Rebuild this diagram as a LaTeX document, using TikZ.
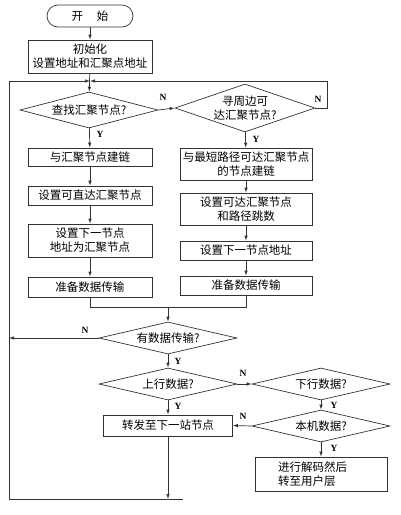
\documentclass[tikz,border=0pt]{standalone}
\usepackage{fontspec}
\setmainfont{Liberation Serif}
\newfontfamily\cjk{Noto Sans CJK SC}
\usetikzlibrary{shapes.geometric,arrows.meta}
\tikzset{
 line/.style={draw=black!80, line width=0.7pt},
 arr/.style={line, -{Latex[length=5pt,width=3.5pt]}},
 procbox/.style={draw=black!80, line width=0.7pt, rectangle, minimum width=124pt, font=\cjk\fontsize{11.5}{14}\selectfont, align=center, inner sep=1pt},
 decision/.style={draw=black!80, line width=0.7pt, diamond, inner sep=-10pt, aspect=3.6, minimum width=138pt, minimum height=34pt, font=\cjk\fontsize{11.5}{14}\selectfont, align=center},
 yn/.style={font=\bfseries\fontsize{9.5}{10}\selectfont, inner sep=1pt}
}
\begin{document}
\begin{tikzpicture}[x=1pt,y=-1pt]
\useasboundingbox (0,0) rectangle (400,515);
\node[procbox, rounded corners=11pt, minimum width=86pt, minimum height=22pt] (start) at (90,16) {开\hspace{1.2em}始};
\node[procbox, minimum height=33pt] (init) at (90,56.5) {初始化\\设置地址和汇聚点地址};
\node[decision, minimum height=36pt] (d1) at (89,110) {查找汇聚节点?};
\node[decision, aspect=2.9, minimum width=140pt, minimum height=48pt] (d2) at (245,108) {寻周边可\\达汇聚节点?};
\node[procbox, minimum height=18pt] (L1) at (90,157) {与汇聚节点建链};
\node[procbox, minimum height=19pt] (L2) at (90,195.5) {设置可直达汇聚节点};
\node[procbox, minimum height=33pt] (L3) at (90,240.5) {设置下一节点\\地址为汇聚节点};
\node[procbox, minimum height=20pt] (L4) at (90,287) {准备数据传输};
\node[procbox, minimum width=132pt, minimum height=32pt] (R1) at (246,164) {与最短路径可达汇聚节点\\的节点建链};
\node[procbox, minimum width=132pt, minimum height=32pt] (R2) at (246,209) {设置可达汇聚节点\\和路径跳数};
\node[procbox, minimum width=132pt, minimum height=19pt] (R3) at (246,250.5) {设置下一节点地址};
\node[procbox, minimum width=132pt, minimum height=19pt] (R4) at (246,285.5) {准备数据传输};
\node[decision, minimum height=32pt] (d3) at (168,338) {有数据传输?};
\node[decision, minimum height=32pt] (d4) at (168,384) {上行数据?};
\node[decision, minimum height=32pt] (d5) at (321,384) {下行数据?};
\node[decision, minimum height=32pt] (d6) at (321,426) {本机数据?};
\node[procbox, minimum width=129pt, minimum height=21pt] (fw) at (168,425.5) {转发至下一站节点};
\node[procbox, minimum width=132pt, minimum height=34pt, align=left, text width=86pt] (last) at (321,474) {进行解码然后\\转至用户层};
% loop-back lines
\coordinate (tl) at (9,81);
\coordinate (bl) at (9,499);
\coordinate (br) at (183,499);
\coordinate (jl) at (90,81);
\coordinate (rt) at (327,81);
\coordinate (rb) at (327,108);
\coordinate (mL) at (90,307);
\coordinate (mR) at (246,307);
\coordinate (mC) at (168,307);
\coordinate (nL) at (9,338);
\coordinate (fb) at (168,499);
\draw[arr] (start) -- (init);
\draw[arr] (init) -- (d1);
\draw[line] (br) -- (bl) -- (tl);
\draw[arr] (tl) -- (jl);
\draw[arr] (d2.east) -- (rb) -- (rt) -- (jl);
\draw[arr] (d1.east) -- (d2.west);
\draw[arr] (d1) -- (L1);
\draw[arr] (L1) -- (L2);
\draw[arr] (L2) -- (L3);
\draw[arr] (L3) -- (L4);
\draw[arr] (d2) -- (R1);
\draw[arr] (R1) -- (R2);
\draw[arr] (R2) -- (R3);
\draw[arr] (R3) -- (R4);
\draw[line] (L4.south) -- (mL) -- (mR) -- (R4.south);
\draw[arr] (mC) -- (d3.north);
\draw[arr] (d3.west) -- (nL);
\draw[arr] (d3) -- (d4);
\draw[arr] (d4.east) -- (d5.west);
\draw[arr] (d4) -- (fw);
\draw[arr] (d5) -- (d6);
\draw[arr] (d6.west) -- (fw.east);
\draw[arr] (d6) -- (last);
\draw[arr] (fw) -- (fb);
% labels
\node[yn] (n1) at (163,97) {N};
\node[yn] (n2) at (318,99) {N};
\node[yn] (y1) at (100,134) {Y};
\node[yn] (y2) at (256,139) {Y};
\node[yn] (n3) at (85,330) {N};
\node[yn] (y3) at (178,361) {Y};
\node[yn] (n4) at (243,373) {N};
\node[yn] (y4) at (334,405) {Y};
\node[yn] (y5) at (178,406) {Y};
\node[yn] (n5) at (243,416) {N};
\node[yn] (y6) at (334,448) {Y};
\end{tikzpicture}
\end{document}
